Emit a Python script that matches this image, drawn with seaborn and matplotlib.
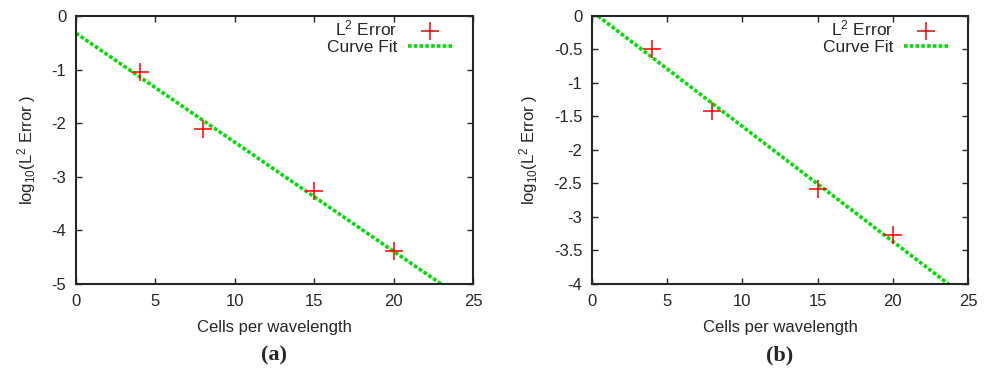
import matplotlib
matplotlib.use("Agg")
import matplotlib.pyplot as plt
import seaborn as sns
import pandas as pd

# Panel (a)
cells_a = [4, 8, 15, 20]
err_a = [-1.05, -2.1, -3.27, -4.38]
fit_x_a = [0.0, 23.0]
fit_y_a = [-0.32, -5.0]

# Panel (b)
cells_b = [4, 8, 15, 20]
err_b = [-0.5, -1.42, -2.58, -3.27]
fit_x_b = [0.4, 23.7]
fit_y_b = [0.0, -4.0]

xticks = [0, 5, 10, 15, 20, 25]
yticks_a = [0, -1, -2, -3, -4, -5]
yticks_b = [0, -0.5, -1, -1.5, -2, -2.5, -3, -3.5, -4]

sns.set_style("ticks")
plt.rcParams['font.family'] = ['Liberation Sans', 'DejaVu Sans']
plt.rcParams['mathtext.default'] = 'regular'

fig = plt.figure(figsize=(9.92, 3.72), dpi=100)
ax1 = fig.add_axes([0.0766, 0.2366, 0.4002, 0.7204])
ax2 = fig.add_axes([0.5968, 0.2366, 0.3790, 0.7204])

red = '#ff0000'
green = '#00dd00'

def draw(ax, cx, cy, fx, fy, yticks, ylim, ytl, panel):
    sns.lineplot(x=fx, y=fy, ax=ax, color=green, lw=2.6, linestyle=(0, (1, 0.6)),
                 label='Curve Fit', zorder=2)
    sns.scatterplot(x=cx, y=cy, ax=ax, marker='+', s=170, color=red, linewidth=1.1,
                    label='L$^2$ Error', zorder=3)
    ax.set_xlim(0, 25)
    ax.set_ylim(*ylim)
    ax.set_xticks(xticks)
    ax.set_xticklabels([str(t) for t in xticks])
    ax.set_yticks(yticks)
    ax.set_yticklabels(ytl)
    ax.tick_params(direction='in', top=True, right=True, length=4, width=1,
                   labelsize=12, pad=7)
    for s in ax.spines.values():
        s.set_linewidth(1.5)
        s.set_visible(True)
    ax.set_xlabel('Cells per wavelength', fontsize=12, labelpad=8)
    ax.set_ylabel('log$_{10}$(L$^2$ Error )', fontsize=12, labelpad=10)
    h, l = ax.get_legend_handles_labels()
    ax.legend(h[::-1], l[::-1], loc='upper right', frameon=False, markerfirst=False,
              fontsize=12.5, handlelength=2.6, borderaxespad=0.0, labelspacing=0.05,
              handletextpad=0.6, bbox_to_anchor=(0.967, 1.015))
    ax.text(0.5, -0.265, panel, transform=ax.transAxes, ha='center', va='center',
            fontsize=16, fontweight='bold', family='Liberation Serif')

draw(ax1, cells_a, err_a, fit_x_a, fit_y_a, yticks_a, (-5, 0),
     [str(t) for t in yticks_a], '(a)')
draw(ax2, cells_b, err_b, fit_x_b, fit_y_b, yticks_b, (-4, 0),
     ['0', '-0.5', '-1', '-1.5', '-2', '-2.5', '-3', '-3.5', '-4'], '(b)')

fig.savefig('out.png', dpi=100)
